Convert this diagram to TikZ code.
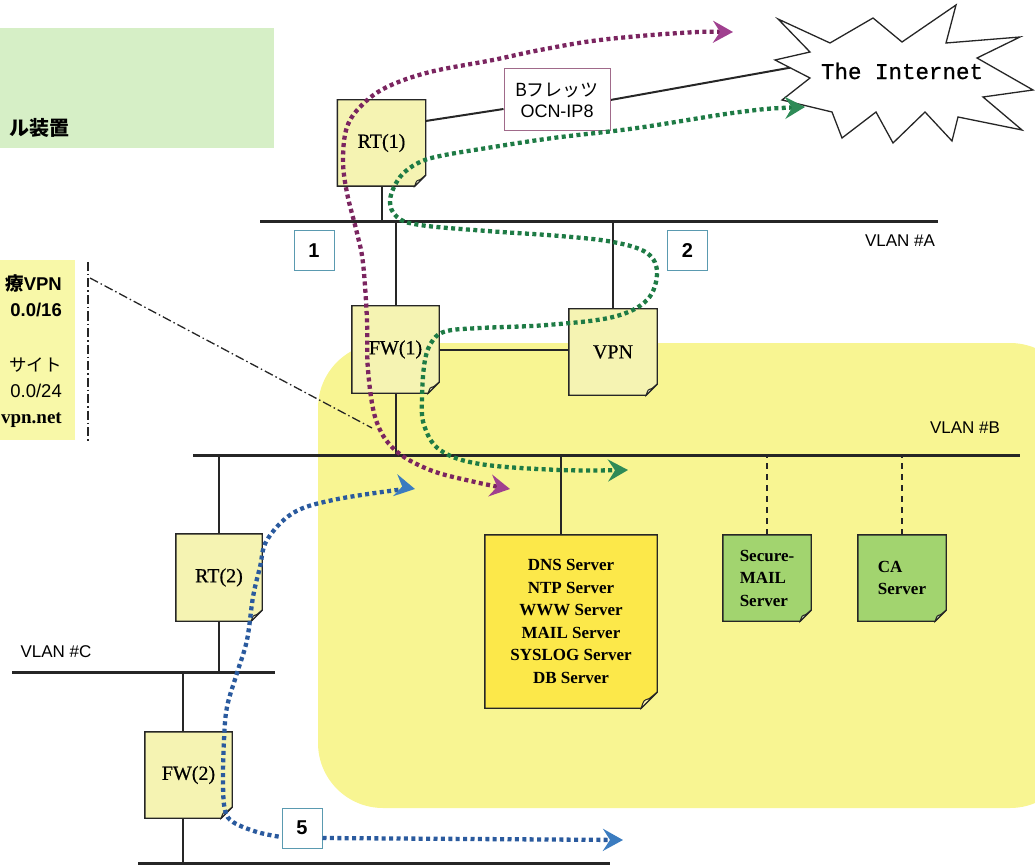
\documentclass[tikz,border=0pt]{standalone}
\usepackage{fontspec}
\setmainfont{Liberation Serif}
\newfontfamily\sansf{Liberation Sans}
\newfontfamily\monof[FakeBold=0.7]{Liberation Mono}
\newfontfamily\serifmed[FakeBold=0.5]{Liberation Serif}
\newfontfamily\jpf{Noto Sans CJK JP}
\usetikzlibrary{arrows.meta}
\pgfdeclarelayer{back}
\pgfdeclarelayer{shapes}
\pgfsetlayers{back,shapes,main}
\definecolor{greenbg}{HTML}{D6EFC6}
\definecolor{leftbg}{HTML}{F8F8A8}
\definecolor{regionbg}{HTML}{F8F592}
\definecolor{notefill}{HTML}{F5F3B2}
\definecolor{srvfill}{HTML}{FCE84A}
\definecolor{grnfill}{HTML}{A2D46F}
\definecolor{numblue}{HTML}{5A9AB0}
\definecolor{bfcol}{HTML}{A06A8A}
\definecolor{lineP}{HTML}{7B2560}
\definecolor{headP}{HTML}{A0408F}
\definecolor{lineG}{HTML}{1E7B45}
\definecolor{headG}{HTML}{2E8B57}
\definecolor{lineB}{HTML}{2A5A9E}
\definecolor{headB}{HTML}{3B7CC0}
\tikzset{
  vlan/.style={line width=3pt, black!85},
  link/.style={line width=2pt, black!85},
  dlink/.style={line width=2pt, black!85, dash pattern=on 6pt off 5pt},
  callout/.style={line width=1.3pt, black!85, dash pattern=on 9pt off 3pt on 1.5pt off 3pt},
  noteline/.style={line width=1.4pt, black!85},
  notebox/.style={inner sep=0pt, minimum width=88pt, minimum height=86pt, font=\serifmed\fontsize{20}{22}\selectfont, align=center},
  srvtext/.style={inner sep=0pt, font=\bfseries\fontsize{17}{22.6}\selectfont, align=center},
  smalltext/.style={inner sep=0pt, minimum width=88pt, minimum height=86pt, font=\bfseries\fontsize{17}{22.5}\selectfont, align=left},
  numbox/.style={draw=numblue, line width=1pt, fill=white, minimum size=40pt, inner sep=0pt, font=\sansf\bfseries\fontsize{20}{20}\selectfont},
  vlabel/.style={font=\sansf\fontsize{17}{20}\selectfont, inner sep=0pt},
  sidetext/.style={anchor=east, inner sep=0pt},
  flowP/.style={line width=4.3pt, lineP, dash pattern=on 4pt off 3.4pt},
  flowG/.style={line width=4.3pt, lineG, dash pattern=on 4pt off 3.4pt},
  flowB/.style={line width=4.3pt, lineB, dash pattern=on 4pt off 3.4pt},
  hp/.tip={Stealth[length=20pt,width=22pt,inset=7pt,color=headP]},
  hg/.tip={Stealth[length=20pt,width=22pt,inset=7pt,color=headG]},
  hb/.tip={Stealth[length=20pt,width=22pt,inset=7pt,color=headB]},
}
\newcommand\drawnote[3]{%
  \draw[noteline, fill=#2] (#1.north west) -- (#1.north east) -- ([yshift=#3]#1.south east) -- ([xshift=-#3]#1.south east) -- (#1.south west) -- cycle;
  \draw[noteline, line width=1pt, fill=white!55!#2] ([xshift=-#3]#1.south east) .. controls ([xshift=-0.85*#3, yshift=0.5*#3]#1.south east) .. ([xshift=-0.5*#3, yshift=0.6*#3]#1.south east) -- ([yshift=#3]#1.south east) -- cycle;
}
\begin{document}
\begin{tikzpicture}[x=1pt,y=-1pt]
\useasboundingbox (0,0) rectangle (1035,866);

% ---------- coordinates of the VLAN lines
\coordinate (vA) at (0,222);
\coordinate (vB) at (0,455);
\coordinate (vC) at (0,672);
\coordinate (vD) at (0,863);

% ---------- nodes
\node[notebox] (rt1) at (381.5,143) {RT(1)};
\node[notebox, minimum width=87pt, minimum height=87pt] (fw1) at (395.5,349.5) {FW(1)};
\node[notebox] (vpn) at (613,352) {VPN};
\node[notebox, minimum width=86pt, minimum height=87pt] (rt2) at (219,577.5) {RT(2)};
\node[notebox, minimum width=87pt] (fw2) at (188.5,775) {FW(2)};
\node[srvtext, minimum width=172pt, minimum height=173pt] (srv) at (571,621.5)
  {DNS Server\\NTP Server\\WWW Server\\MAIL Server\\SYSLOG Server\\DB Server};
\node[smalltext] (sec) at (767,578) {Secure-\\MAIL\\Server};
\node[smalltext] (ca) at (902,578) {CA\\Server};

\node[numbox] (n1) at (314,250.5) {1};
\node[numbox] (n2) at (687.5,250.5) {2};
\node[numbox] (n5) at (302,828) {5};

\node[draw=bfcol, line width=1pt, fill=white, minimum width=106pt, minimum height=62pt, inner sep=0pt,
      align=center, font=\fontsize{18}{21}\selectfont] (bf) at (557,100)
  {{\jpf Bフレッツ}\\{\sansf OCN-IP8}};

\node[inner sep=0pt, font=\monof\fontsize{22.5}{24}\selectfont] (inet) at (902,71) {The Internet};
\coordinate (inetedge) at (790,67.7);

\node[vlabel] (lA) at (900,241) {VLAN \#A};
\node[vlabel] (lB) at (965,428) {VLAN \#B};
\node[vlabel] (lC) at (56,652) {VLAN \#C};

% side texts (at the left edge)
\node[sidetext, font=\jpf\bfseries\fontsize{20}{22}\selectfont] (g1) at (70,128) {ル装置};
\node[sidetext, font=\fontsize{18.5}{20}\selectfont] (s1) at (62,283) {{\jpf\bfseries 療}{\sansf\bfseries VPN}};
\node[sidetext, font=\sansf\bfseries\fontsize{18.5}{20}\selectfont] (s2) at (62,310) {0.0/16};
\node[sidetext, font=\jpf\fontsize{17.5}{20}\selectfont] (s3) at (62,365) {サイト};
\node[sidetext, font=\sansf\fontsize{18.5}{20}\selectfont] (s4) at (62,391) {0.0/24};
\node[sidetext, font=\bfseries\fontsize{19}{20}\selectfont] (s5) at (62,420) {vpn.net};

\coordinate (cv1) at (88,262);
\coordinate (cv2) at (88,442);
\coordinate (cd1) at (90,278);
\coordinate (cd2) at (372,428);

% ---------- background layer
\begin{pgfonlayer}{back}
  \fill[greenbg] (-5,28) rectangle (274,148);
  \fill[leftbg] (-5,260) rectangle (75,440);
  \fill[regionbg, rounded corners=65pt] (318,343) rectangle (1075,808);

  \draw[vlan] (260,222) -- (938,222);
  \draw[vlan] (193,455) -- (1020,455);
  \draw[vlan] (12,672) -- (275,672);
  \draw[vlan] (138,863) -- (610,863);

  \draw[link] (rt1.south) -- (rt1.south |- vA);
  \draw[link] ([yshift=22pt]rt1.east) -- ([yshift=-9pt]bf.west);
  \draw[link] (bf.east) -- (inetedge);
  \draw[link] (fw1.north) -- (fw1.north |- vA);
  \draw[link] (vpn.north) -- (vpn.north |- vA);
  \draw[link] (fw1.east) -- (fw1.east -| vpn.west);
  \draw[link] (fw1.south) -- (fw1.south |- vB);
  \draw[link] ([xshift=-10pt]srv.north) -- ([xshift=-10pt]srv.north |- vB);
  \draw[dlink] (sec.north) -- (sec.north |- vB);
  \draw[dlink] (ca.north) -- (ca.north |- vB);
  \draw[link] (rt2.north) -- (rt2.north |- vB);
  \draw[link] (rt2.south) -- (rt2.south |- vC);
  \draw[link] ([xshift=-6pt]fw2.north) -- ([xshift=-6pt]fw2.north |- vC);
  \draw[link] ([xshift=-6pt]fw2.south) -- ([xshift=-6pt]fw2.south |- vD);

  \draw[callout] (cv1) -- (cv2);
  \draw[callout] (cd1) -- (cd2);
\end{pgfonlayer}

% ---------- shapes layer
\begin{pgfonlayer}{shapes}
  \drawnote{rt1}{notefill}{11pt}
  \drawnote{fw1}{notefill}{11pt}
  \drawnote{vpn}{notefill}{11pt}
  \drawnote{rt2}{notefill}{11pt}
  \drawnote{fw2}{notefill}{11pt}
  \drawnote{srv}{srvfill}{16pt}
  \drawnote{sec}{grnfill}{11pt}
  \drawnote{ca}{grnfill}{11pt}
  \draw[line width=1.3pt, black!85, fill=white, line join=miter]
    (778,19) -- (830,43) -- (873,18) -- (902,42) -- (956,5) -- (946,43) -- (1020,37) -- (977,58)
    -- (1033,90) -- (983,97) -- (1022,130) -- (958,117) -- (952,141) -- (925,112) -- (893,143)
    -- (876,112) -- (842,138) -- (832,112) -- (782,100) -- (810,78) -- (775,60) -- (810,52) -- cycle;
\end{pgfonlayer}

% ---------- flows
\draw[flowP, hp-hp] plot[smooth, tension=0.6] coordinates {
  (733,32) (680,33) (600,40) (540,50) (493,60) (430,72) (387,87) (362,105) (347,127)
  (343,160) (347,193) (357,233) (363,263) (367,320) (368,370) (376,420) (395,450)
  (430,470) (475,482) (510,489)};
\draw[flowG, hg-hg] plot[smooth, tension=0.6] coordinates {
  (805,107) (740,112) (637,128) (553,138) (487,148) (440,156) (418,163) (400,177) (390,200)
  (397,217) (420,225) (487,231) (560,236) (613,242) (647,253) (657,273) (647,300)
  (613,317) (547,325) (480,328) (447,331) (433,340) (425,360) (422,397) (424,425)
  (440,450) (480,464) (560,470) (628,470)};
\draw[flowB, hb-] plot[smooth, tension=0.6] coordinates {
  (415,489) (397,490) (333,500) (293,513) (267,540) (260,567) (253,597) (247,640)
  (237,673) (227,707) (224,740) (223,783) (225,810) (233,822) (257,832) (281,837)};
\coordinate (bend) at (623,840);
\draw[flowB, -hb] ([yshift=-10pt]n5.east) -- (bend);
\end{tikzpicture}
\end{document}
